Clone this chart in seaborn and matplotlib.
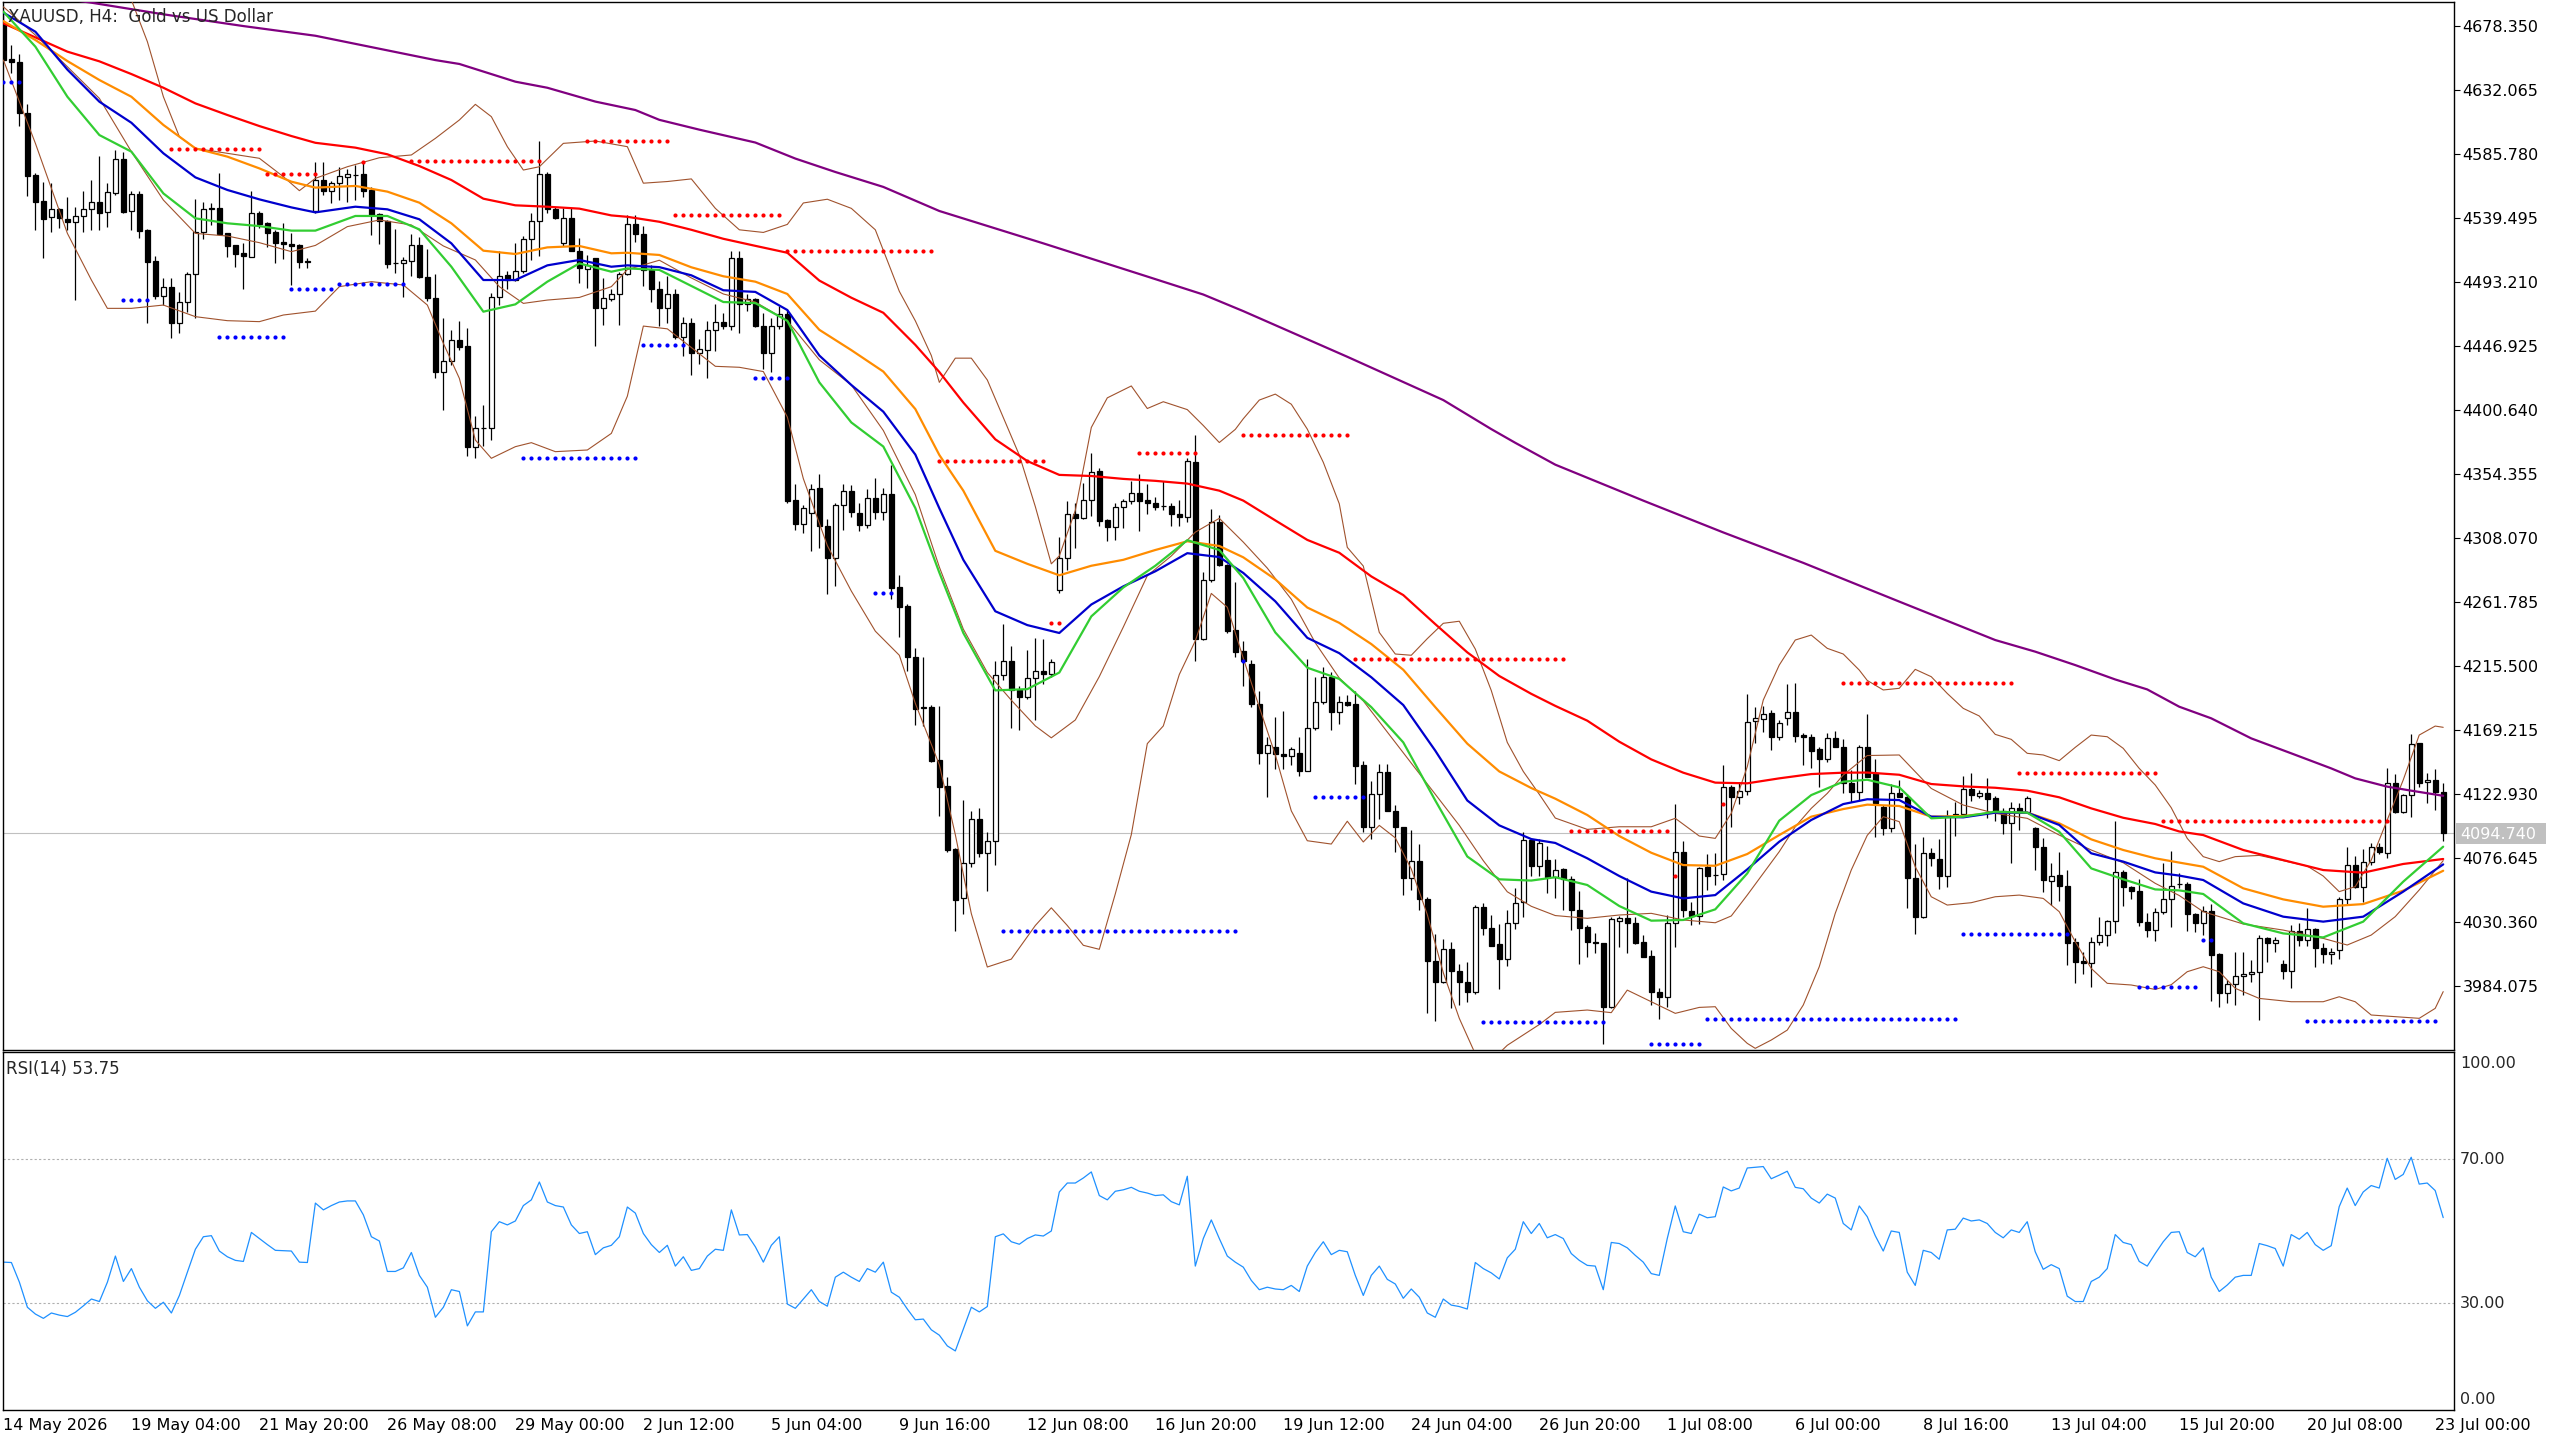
import numpy as np
import seaborn as sns
import matplotlib.pyplot as plt
from matplotlib.patches import Rectangle

sns.set_style("white")
plt.rcParams['font.family'] = ['DejaVu Sans']

# XAUUSD H4 candles, one value per bar (bar 0 = 14 May 2026)
opens = [
    4680.0, 4654.0, 4652.1, 4615.0, 4570.4, 4551.6, 4539.8, 4545.6, 4538.6, 4536.7,
    4541.0, 4545.6, 4550.9, 4543.4, 4557.6, 4581.7, 4544.6, 4556.7, 4530.6, 4508.2,
    4482.9, 4489.7, 4463.2, 4478.3, 4498.6, 4529.0, 4546.0, 4546.3, 4528.2, 4519.8,
    4513.8, 4511.4, 4542.7, 4535.5, 4529.0, 4521.7, 4520.3, 4519.8, 4507.7, 4544.6,
    4566.8, 4559.1, 4564.4, 4569.2, 4570.2, 4571.1, 4559.6, 4542.2, 4537.4, 4506.5,
    4506.5, 4508.5, 4519.8, 4496.9, 4481.7, 4427.7, 4435.9, 4451.1, 4447.0, 4374.0,
    4387.2, 4387.2, 4482.0, 4498.1, 4494.5, 4501.0, 4524.1, 4537.4, 4570.9, 4545.8,
    4521.0, 4539.0, 4515.7, 4502.2, 4510.2, 4474.0, 4480.8, 4484.4, 4498.8, 4534.7,
    4527.7, 4501.8, 4488.3, 4474.0, 4484.4, 4453.4, 4463.1, 4441.8, 4443.8, 4458.1,
    4463.9, 4461.2, 4510.7, 4477.4, 4480.5, 4461.2, 4441.8, 4461.2, 4470.1, 4335.4,
    4318.0, 4325.7, 4343.9, 4316.8, 4293.6, 4331.5, 4342.0, 4325.7, 4317.2, 4336.6,
    4326.5, 4340.1, 4272.3, 4258.8, 4222.0, 4185.2, 4185.6, 4147.7, 4128.6, 4082.9,
    4047.8, 4072.9, 4104.9, 4080.1, 4088.7, 4208.7, 4219.3, 4197.8, 4193.0, 4206.4,
    4211.6, 4209.8, 4270.1, 4293.6, 4325.0, 4322.7, 4335.6, 4356.5, 4320.7, 4315.6,
    4330.2, 4334.4, 4340.2, 4335.6, 4333.6, 4331.3, 4331.3, 4325.0, 4323.0, 4362.8,
    4235.0, 4277.3, 4319.3, 4288.4, 4241.6, 4226.4, 4216.6, 4188.1, 4152.7, 4157.2,
    4152.1, 4150.6, 4152.7, 4139.8, 4170.7, 4189.3, 4207.3, 4182.1, 4189.6, 4187.8,
    4143.7, 4098.7, 4122.7, 4138.6, 4110.7, 4098.7, 4062.1, 4074.7, 4046.8, 4002.1,
    3986.8, 4011.1, 3995.2, 3986.8, 3979.6, 4041.1, 4026.1, 4014.1, 4003.6, 4029.7,
    4044.7, 4089.7, 4071.1, 4075.3, 4062.7, 4068.4, 4061.2, 4039.0, 4026.9, 4015.6,
    4014.9, 3969.1, 4031.4, 4033.5, 4029.4, 4015.6, 4005.7, 3979.9, 3975.8, 4029.8,
    4080.7, 4038.3, 4034.7, 4070.3, 4064.3, 4065.0, 4128.1, 4120.9, 4125.3, 4175.9,
    4176.8, 4181.2, 4164.3, 4177.6, 4182.4, 4165.5, 4164.0, 4155.2, 4147.9, 4163.1,
    4157.1, 4131.0, 4124.6, 4156.6, 4138.3, 4113.7, 4098.1, 4123.8, 4120.9, 4061.9,
    4033.7, 4080.5, 4075.6, 4063.8, 4108.4, 4108.2, 4126.2, 4121.7, 4123.3, 4119.7,
    4110.6, 4102.1, 4112.5, 4110.1, 4098.0, 4084.3, 4060.2, 4064.3, 4056.4, 4016.1,
    4002.4, 4000.4, 4016.1, 4020.9, 4031.1, 4066.2, 4055.4, 4053.0, 4030.6, 4024.5,
    4037.8, 4046.9, 4057.5, 4057.6, 4035.9, 4029.8, 4038.3, 4007.2, 3979.2, 3985.3,
    3991.3, 3992.5, 3993.9, 4018.5, 4014.9, 3999.7, 3995.1, 4023.8, 4017.3, 4025.0,
    4011.3, 4006.9, 4010.1, 4046.7, 4071.5, 4055.9, 4074.0, 4084.8, 4080.0, 4130.6,
    4110.1, 4122.1, 4159.5, 4131.3, 4133.0, 4124.6]
highs = [
    4687.0, 4664.4, 4657.6, 4621.7, 4571.6, 4565.6, 4564.9, 4546.3, 4554.3, 4547.5,
    4559.1, 4566.8, 4584.4, 4564.9, 4588.5, 4587.3, 4558.8, 4559.1, 4531.1, 4512.1,
    4495.7, 4495.7, 4485.6, 4500.5, 4552.8, 4551.1, 4550.4, 4571.6, 4528.2, 4519.8,
    4521.0, 4559.1, 4544.6, 4536.7, 4530.6, 4535.9, 4528.2, 4520.3, 4510.1, 4579.6,
    4580.0, 4566.1, 4576.4, 4574.5, 4577.6, 4580.0, 4562.0, 4543.2, 4537.9, 4531.1,
    4510.9, 4527.7, 4525.8, 4516.7, 4498.8, 4466.8, 4458.3, 4465.1, 4459.6, 4396.2,
    4404.1, 4484.8, 4515.7, 4501.2, 4521.5, 4526.3, 4542.7, 4595.2, 4572.8, 4547.5,
    4546.3, 4546.3, 4524.6, 4512.6, 4510.2, 4495.7, 4487.7, 4500.5, 4541.5, 4541.3,
    4533.5, 4505.7, 4494.0, 4497.2, 4488.3, 4468.1, 4467.0, 4451.5, 4465.0, 4477.4,
    4470.8, 4515.4, 4515.4, 4484.4, 4481.3, 4470.8, 4467.0, 4475.5, 4472.8, 4347.0,
    4331.5, 4347.0, 4354.0, 4321.9, 4333.5, 4347.0, 4346.2, 4333.5, 4343.1, 4351.6,
    4343.9, 4360.5, 4281.2, 4259.9, 4228.2, 4222.0, 4187.2, 4186.4, 4134.9, 4083.5,
    4118.7, 4110.7, 4112.9, 4095.5, 4219.3, 4245.9, 4230.1, 4200.7, 4227.3, 4235.6,
    4235.0, 4220.7, 4308.4, 4335.0, 4333.0, 4347.9, 4369.3, 4358.7, 4321.6, 4333.6,
    4336.4, 4349.3, 4354.5, 4347.3, 4337.9, 4349.3, 4333.6, 4335.6, 4365.6, 4382.2,
    4283.6, 4329.3, 4324.4, 4289.3, 4276.4, 4233.6, 4219.6, 4197.7, 4164.1, 4178.2,
    4182.7, 4157.2, 4164.1, 4220.8, 4207.3, 4214.8, 4211.2, 4193.8, 4194.7, 4197.7,
    4146.7, 4132.3, 4144.3, 4144.3, 4115.2, 4098.7, 4097.2, 4086.7, 4048.3, 4021.6,
    4018.3, 4016.2, 3999.7, 4001.2, 4042.3, 4044.1, 4035.7, 4029.1, 4038.7, 4055.2,
    4095.7, 4091.2, 4090.3, 4085.2, 4076.2, 4069.1, 4063.6, 4052.7, 4028.1, 4022.1,
    4014.9, 4034.2, 4034.7, 4061.9, 4033.7, 4020.9, 4010.1, 3982.4, 4035.4, 4115.6,
    4089.1, 4045.0, 4070.3, 4079.5, 4079.9, 4143.8, 4129.4, 4131.8, 4195.2, 4186.0,
    4186.5, 4183.6, 4176.4, 4202.4, 4202.9, 4167.2, 4166.2, 4157.1, 4167.2, 4168.4,
    4162.4, 4140.2, 4158.3, 4180.7, 4147.9, 4114.9, 4130.1, 4133.0, 4122.9, 4086.7,
    4092.0, 4083.6, 4090.1, 4111.3, 4117.3, 4135.9, 4137.8, 4125.7, 4134.7, 4121.4,
    4112.5, 4117.3, 4116.1, 4121.4, 4098.8, 4090.8, 4072.7, 4080.7, 4067.9, 4018.5,
    4008.9, 4019.2, 4034.2, 4031.8, 4103.6, 4067.9, 4056.4, 4061.4, 4036.6, 4040.2,
    4072.7, 4081.9, 4065.5, 4059.5, 4036.6, 4041.9, 4043.1, 4008.1, 3988.4, 4008.4,
    4008.4, 4002.8, 4020.9, 4019.7, 4019.7, 4002.8, 4028.1, 4029.8, 4040.2, 4025.7,
    4015.4, 4011.3, 4048.6, 4084.8, 4078.0, 4083.1, 4087.7, 4087.7, 4141.4, 4137.3,
    4122.9, 4166.2, 4160.0, 4137.8, 4140.9, 4130.6]
lows = [
    4652.0, 4643.9, 4606.1, 4555.5, 4530.6, 4510.6, 4529.0, 4532.3, 4530.6, 4480.0,
    4529.0, 4530.6, 4530.6, 4533.0, 4556.0, 4542.7, 4530.6, 4525.1, 4463.6, 4480.5,
    4476.4, 4452.8, 4455.9, 4471.1, 4466.8, 4524.1, 4534.2, 4527.0, 4510.9, 4504.1,
    4487.7, 4511.4, 4532.3, 4518.1, 4506.5, 4509.4, 4490.9, 4503.4, 4502.9, 4542.7,
    4556.0, 4550.0, 4552.3, 4551.1, 4552.3, 4554.8, 4527.0, 4520.5, 4502.9, 4499.3,
    4481.9, 4497.4, 4495.7, 4479.5, 4423.9, 4400.5, 4433.0, 4443.9, 4367.2, 4365.6,
    4374.7, 4378.8, 4476.4, 4487.7, 4494.0, 4499.3, 4509.0, 4511.8, 4542.7, 4538.3,
    4519.1, 4515.7, 4492.1, 4488.5, 4447.0, 4462.0, 4479.5, 4462.0, 4498.1, 4521.9,
    4490.2, 4478.6, 4461.2, 4463.1, 4451.5, 4439.9, 4425.6, 4434.1, 4423.6, 4443.0,
    4459.2, 4458.5, 4456.5, 4472.0, 4460.4, 4430.2, 4428.3, 4459.2, 4333.5, 4314.1,
    4311.4, 4298.6, 4300.6, 4267.7, 4273.5, 4314.1, 4323.0, 4312.9, 4315.3, 4321.9,
    4320.7, 4263.8, 4236.7, 4211.6, 4172.9, 4172.1, 4145.8, 4107.1, 4080.7, 4023.5,
    4035.8, 4070.1, 4077.2, 4052.7, 4071.2, 4205.0, 4170.7, 4169.3, 4191.3, 4176.4,
    4202.1, 4207.8, 4268.4, 4285.0, 4300.7, 4321.6, 4323.6, 4316.4, 4305.6, 4306.4,
    4315.0, 4332.2, 4313.0, 4325.0, 4327.9, 4327.9, 4317.0, 4317.0, 4319.3, 4218.7,
    4234.4, 4275.9, 4287.9, 4239.3, 4222.1, 4200.7, 4185.7, 4144.6, 4120.6, 4141.3,
    4141.3, 4143.7, 4135.6, 4139.8, 4169.2, 4187.8, 4169.2, 4173.7, 4186.3, 4130.2,
    4095.7, 4090.3, 4104.7, 4110.7, 4080.7, 4050.1, 4053.7, 4038.7, 3964.3, 3958.6,
    3986.2, 3968.2, 3970.6, 3972.7, 3978.1, 4020.7, 4013.2, 3981.7, 3998.2, 4025.2,
    4034.2, 4063.3, 4063.3, 4051.3, 4047.7, 4039.0, 4024.5, 3999.7, 4004.8, 4008.1,
    3941.9, 3967.9, 4012.5, 4008.1, 4014.4, 4004.8, 3970.3, 3959.9, 3969.1, 4012.5,
    4034.2, 4028.1, 4028.9, 4053.4, 4057.0, 4060.7, 4099.2, 4115.6, 4122.1, 4159.5,
    4167.9, 4154.7, 4161.9, 4172.8, 4160.7, 4143.8, 4141.4, 4128.1, 4146.2, 4157.1,
    4123.8, 4117.3, 4118.5, 4135.0, 4091.5, 4093.2, 4095.7, 4120.9, 4040.2, 4021.4,
    4033.0, 4070.8, 4053.9, 4055.9, 4092.7, 4107.2, 4118.0, 4119.7, 4105.3, 4103.6,
    4093.7, 4072.7, 4096.8, 4108.9, 4067.9, 4052.2, 4042.6, 4045.5, 3999.2, 3986.0,
    3992.7, 3983.1, 4013.7, 4013.2, 4022.6, 4042.1, 4046.7, 4027.7, 4019.2, 4016.8,
    4035.9, 4026.5, 4054.7, 4023.8, 4022.9, 4020.9, 3973.2, 3969.1, 3971.5, 3970.3,
    3977.5, 3987.2, 3959.5, 4001.6, 4008.4, 3988.9, 3982.4, 4012.9, 4012.9, 3997.5,
    4000.4, 3999.9, 4003.3, 4043.3, 4054.7, 4044.5, 4071.5, 4079.2, 4076.4, 4108.9,
    4108.9, 4106.0, 4127.7, 4116.1, 4111.3, 4089.1]
closes = [
    4653.6, 4651.9, 4615.0, 4569.9, 4551.1, 4538.6, 4545.6, 4539.1, 4536.7, 4540.8,
    4545.6, 4550.9, 4543.2, 4557.9, 4581.7, 4543.9, 4556.7, 4530.2, 4507.7, 4483.2,
    4489.2, 4463.2, 4478.3, 4498.6, 4529.0, 4545.6, 4546.5, 4527.5, 4519.3, 4513.3,
    4511.8, 4542.7, 4534.7, 4528.7, 4521.5, 4520.3, 4519.3, 4507.7, 4507.9, 4566.8,
    4559.1, 4564.4, 4569.7, 4570.9, 4570.4, 4559.1, 4541.5, 4537.4, 4506.0, 4506.8,
    4508.9, 4519.8, 4496.9, 4481.7, 4428.2, 4435.9, 4451.1, 4446.3, 4374.0, 4387.2,
    4387.5, 4482.0, 4497.6, 4494.5, 4501.0, 4524.1, 4537.4, 4570.9, 4545.8, 4539.5,
    4539.0, 4515.7, 4502.9, 4505.3, 4474.0, 4481.2, 4484.4, 4498.8, 4535.0, 4527.7,
    4501.8, 4488.3, 4474.0, 4484.4, 4453.4, 4463.1, 4441.8, 4444.5, 4458.1, 4463.9,
    4461.2, 4510.7, 4477.4, 4480.5, 4461.2, 4441.8, 4461.2, 4470.1, 4334.6, 4318.0,
    4329.6, 4343.1, 4316.8, 4293.6, 4331.5, 4342.0, 4326.5, 4317.2, 4336.6, 4326.5,
    4340.1, 4271.6, 4258.0, 4222.0, 4184.5, 4185.6, 4146.9, 4128.3, 4082.1, 4046.4,
    4072.9, 4104.9, 4080.1, 4088.7, 4208.7, 4219.3, 4197.8, 4193.0, 4206.4, 4211.6,
    4209.8, 4218.1, 4293.6, 4325.0, 4322.7, 4335.6, 4355.9, 4320.2, 4315.6, 4330.2,
    4334.4, 4340.2, 4335.0, 4333.6, 4330.7, 4331.1, 4325.0, 4323.0, 4363.6, 4235.0,
    4277.3, 4319.3, 4288.4, 4240.7, 4225.6, 4218.7, 4188.1, 4152.7, 4158.1, 4152.1,
    4150.3, 4155.1, 4139.8, 4170.7, 4189.6, 4207.3, 4182.1, 4189.6, 4187.2, 4143.1,
    4098.7, 4122.7, 4138.6, 4110.7, 4098.7, 4062.1, 4074.7, 4046.8, 4002.1, 3986.8,
    4011.1, 3995.2, 3986.8, 3979.6, 4041.1, 4026.1, 4013.2, 4003.3, 4029.7, 4044.1,
    4089.7, 4071.1, 4087.3, 4062.7, 4068.1, 4061.2, 4039.0, 4026.2, 4015.6, 4015.4,
    3969.1, 4032.2, 4033.5, 4029.4, 4014.9, 4005.3, 3979.9, 3975.8, 4029.8, 4080.7,
    4039.0, 4034.7, 4069.6, 4063.6, 4064.0, 4127.7, 4120.9, 4125.3, 4175.2, 4177.6,
    4180.5, 4164.3, 4174.4, 4182.4, 4164.8, 4163.8, 4154.2, 4147.9, 4163.1, 4157.1,
    4130.6, 4124.6, 4157.1, 4135.4, 4116.1, 4098.1, 4123.3, 4120.9, 4061.9, 4033.7,
    4080.0, 4076.4, 4063.8, 4106.9, 4106.9, 4126.2, 4122.1, 4123.3, 4119.2, 4110.6,
    4102.1, 4112.5, 4110.1, 4119.7, 4084.3, 4060.7, 4063.8, 4056.4, 4015.4, 4001.6,
    4000.4, 4016.1, 4020.9, 4031.1, 4066.2, 4055.4, 4053.0, 4030.6, 4024.5, 4037.8,
    4046.9, 4056.6, 4057.6, 4035.9, 4029.8, 4038.3, 4006.5, 3979.2, 3985.3, 3991.3,
    3992.7, 3993.9, 4018.5, 4014.9, 4017.3, 3995.1, 4023.8, 4017.3, 4025.0, 4011.3,
    4006.9, 4008.9, 4046.7, 4071.5, 4055.9, 4074.0, 4084.8, 4080.7, 4130.6, 4110.1,
    4122.1, 4158.8, 4131.1, 4133.0, 4124.6, 4094.74]

# moving averages at these bars
ma_bars = [0, 4, 8, 12, 16, 20, 24, 28, 32, 36, 39, 44, 48, 52, 56, 60, 64, 68, 72, 76, 78,
           82, 86, 90, 94, 98, 102, 106, 110, 114, 117, 120, 124, 128, 132, 136, 140, 144, 148,
           152, 155, 159, 163, 167, 171, 175, 179, 183, 187, 191, 194, 198, 202, 206, 210, 214,
           218, 222, 226, 230, 233, 237, 241, 245, 249, 253, 257, 261, 265, 269, 272, 275, 280,
           285, 290, 295, 300, 305]
ma_green = [4688.5, 4663.2, 4627.0, 4599.3, 4587.3, 4557.1, 4539.1, 4535.5, 4533.5, 4530.2, 4530.2,
            4540.8, 4540.8, 4531.1, 4504.1, 4471.6, 4476.9, 4493.3, 4506.5, 4500.5, 4502.9,
            4501.8, 4490.2, 4478.6, 4477.8, 4465.0, 4420.5, 4391.5, 4374.1, 4329.6, 4283.0,
            4239.3, 4197.8, 4198.7, 4210.7, 4251.3, 4272.2, 4287.9, 4306.4, 4299.3, 4279.0,
            4239.7, 4214.2, 4206.1, 4185.7, 4160.2, 4118.2, 4077.7, 4061.2, 4060.3, 4062.7,
            4057.1, 4041.9, 4031.3, 4031.8, 4039.5, 4065.5, 4103.6, 4122.1, 4131.8, 4133.2,
            4127.7, 4105.3, 4106.5, 4110.1, 4109.4, 4095.6, 4069.1, 4061.2, 4053.9, 4053.2,
            4050.6, 4029.4, 4022.1, 4019.2, 4030.6, 4059.5, 4084.8]
ma_blue = [4687.8, 4674.0, 4646.6, 4623.4, 4608.2, 4586.1, 4568.7, 4559.6, 4552.8, 4547.0, 4543.4,
           4547.5, 4545.6, 4538.4, 4521.0, 4494.5, 4494.5, 4505.1, 4509.0, 4504.1, 4505.1,
           4503.8, 4497.9, 4487.1, 4485.9, 4472.8, 4439.9, 4418.6, 4399.3, 4368.3, 4329.5,
           4292.2, 4255.0, 4245.0, 4239.3, 4259.9, 4273.0, 4283.9, 4297.0, 4294.2, 4282.7,
           4262.2, 4235.8, 4224.7, 4207.3, 4187.2, 4154.2, 4118.2, 4100.2, 4090.3, 4087.5,
           4076.4, 4063.6, 4052.3, 4047.4, 4049.8, 4068.4, 4088.4, 4104.1, 4115.6, 4119.1,
           4118.5, 4106.5, 4106.0, 4109.4, 4109.4, 4100.5, 4080.0, 4074.0, 4066.2, 4063.9,
           4060.7, 4043.8, 4034.2, 4030.6, 4034.2, 4052.3, 4072.0]
ma_orange = [4681.7, 4668.0, 4652.8, 4639.1, 4627.0, 4606.6, 4589.7, 4583.7, 4575.2, 4565.6, 4561.3,
             4562.5, 4558.4, 4550.4, 4535.5, 4515.7, 4513.3, 4518.1, 4519.1, 4513.8, 4514.2,
             4512.6, 4503.7, 4497.2, 4493.3, 4484.4, 4458.5, 4443.8, 4428.3, 4401.2, 4368.0,
             4342.2, 4298.7, 4289.3, 4281.0, 4287.9, 4292.2, 4299.3, 4305.6, 4302.2, 4294.0,
             4278.1, 4257.7, 4246.6, 4231.3, 4212.7, 4185.7, 4159.3, 4139.2, 4127.2, 4119.5,
             4107.7, 4092.5, 4080.4, 4071.5, 4071.0, 4079.5, 4093.2, 4106.5, 4112.0, 4115.2,
             4114.2, 4106.5, 4107.0, 4109.4, 4109.4, 4101.7, 4090.1, 4082.4, 4076.4, 4073.3,
             4070.3, 4054.7, 4046.7, 4041.4, 4043.3, 4053.0, 4067.4]
ma_red = [4680.1, 4669.9, 4659.6, 4652.6, 4643.4, 4633.5, 4622.2, 4613.8, 4605.8, 4598.6, 4593.7,
          4590.2, 4585.4, 4576.9, 4566.8, 4553.3, 4548.5, 4547.5, 4546.1, 4541.2, 4540.2,
          4536.6, 4530.8, 4524.3, 4519.2, 4514.2, 4494.1, 4481.7, 4470.8, 4447.6, 4428.0,
          4405.9, 4379.3, 4363.6, 4353.6, 4352.8, 4350.7, 4349.3, 4347.3, 4342.2, 4335.0,
          4320.7, 4306.6, 4297.3, 4280.2, 4266.7, 4245.7, 4225.3, 4208.2, 4195.3, 4186.6,
          4175.9, 4160.7, 4147.9, 4138.3, 4131.1, 4130.6, 4134.2, 4137.3, 4138.3, 4138.4,
          4136.8, 4130.1, 4128.4, 4127.4, 4125.3, 4120.5, 4112.5, 4105.7, 4101.2, 4095.8,
          4093.2, 4082.4, 4075.1, 4067.9, 4066.0, 4072.3, 4075.9]

purple_bars = [0, 11, 20, 30, 39, 54, 57, 64, 68, 74, 79, 82, 87, 94, 99, 104, 110, 117, 130, 143,
               150, 155, 168, 180, 186, 189, 194, 205, 215, 225, 237, 249, 254, 259, 264, 268, 272,
               276, 281, 286, 291, 294, 298, 301, 305]
ma_purple = [4704.0, 4695.0, 4686.6, 4678.1, 4671.1, 4653.5, 4650.7, 4637.9, 4633.5, 4623.5, 4617.4,
             4610.3, 4603.2, 4593.9, 4582.3, 4572.6, 4561.8, 4544.4, 4521.0, 4497.0, 4484.0,
             4472.0, 4439.0, 4407.7, 4386.7, 4376.8, 4361.0, 4335.0, 4312.0, 4290.0, 4262.0,
             4234.2, 4225.8, 4216.1, 4205.7, 4198.5, 4186.0, 4177.6, 4163.1, 4152.3, 4141.4,
             4134.2, 4128.2, 4125.3, 4121.6]

# Bollinger bands (20)
bb_up_bars = [0, 4, 8, 12, 16, 18, 20, 22, 24, 28, 32, 35, 37, 39, 43, 47, 51, 54, 57, 59, 61, 63,
              65, 67, 70, 74, 78, 80, 83, 86, 89, 92, 95, 98, 100, 103, 106, 109, 112, 114, 116,
              117, 119, 121, 123, 125, 127, 129, 131, 132, 134, 136, 138, 141, 143, 145, 148, 150,
              152, 154, 155, 157, 159, 161, 163, 165, 167, 168, 170, 172, 174, 176, 178, 180, 182,
              184, 186, 188, 190, 192, 194, 198, 202, 206, 209, 212, 214, 216, 218, 220, 222, 224,
              226, 228, 230, 232, 233, 235, 237, 239, 241, 243, 245, 247, 249, 251, 253, 255, 257,
              259, 261, 263, 265, 267, 269, 271, 273, 275, 277, 279, 282, 285, 288, 290, 292, 294,
              296, 298, 300, 302, 304, 305]
bb_upper = [4880.0, 4835.0, 4790.0, 4745.0, 4697.0, 4666.8, 4627.0, 4598.1, 4589.7, 4586.1, 4582.5,
            4569.2, 4559.1, 4568.0, 4576.4, 4582.9, 4584.9, 4596.9, 4610.2, 4621.5, 4612.6, 4590.9,
            4574.0, 4576.4, 4593.3, 4595.0, 4590.9, 4564.5, 4565.7, 4567.6, 4546.3, 4530.8, 4528.9,
            4534.7, 4550.2, 4552.9, 4546.3, 4530.8, 4486.3, 4465.0, 4439.9, 4420.5, 4438.0, 4438.0,
            4422.2, 4395.0, 4367.9, 4330.7, 4289.3, 4295.0, 4327.9, 4387.9, 4409.3, 4417.9, 4401.6,
            4406.5, 4400.8, 4389.3, 4377.0, 4386.5, 4394.2, 4407.7, 4412.0, 4404.7, 4386.7, 4362.7,
            4332.7, 4301.2, 4287.7, 4239.7, 4224.1, 4223.2, 4235.2, 4246.3, 4247.8, 4227.7, 4197.7,
            4160.2, 4139.2, 4122.7, 4105.5, 4097.3, 4099.2, 4099.2, 4105.3, 4092.5, 4090.8, 4108.9,
            4142.6, 4190.8, 4216.1, 4234.2, 4237.8, 4228.2, 4224.1, 4212.5, 4205.0, 4198.1, 4199.3,
            4213.0, 4207.7, 4195.6, 4184.8, 4179.3, 4166.0, 4162.4, 4152.3, 4151.1, 4147.0, 4156.6,
            4165.5, 4164.3, 4155.9, 4141.4, 4129.4, 4113.0, 4090.8, 4077.6, 4074.0, 4077.6, 4078.5,
            4074.7, 4070.8, 4063.6, 4052.3, 4055.9, 4075.1, 4104.1, 4133.0, 4165.5, 4172.0, 4171.1]
bb_mid_bars = [0, 4, 8, 12, 16, 20, 24, 28, 32, 36, 39, 43, 47, 51, 55, 59, 62, 65, 68, 72, 76, 78,
               82, 86, 90, 94, 98, 102, 106, 110, 114, 117, 120, 123, 126, 129, 131, 134, 137, 140,
               143, 146, 149, 152, 155, 158, 161, 164, 167, 170, 173, 176, 179, 182, 185, 188, 191,
               194, 198, 202, 206, 210, 214, 216, 218, 220, 222, 224, 226, 228, 230, 233, 237, 241,
               245, 249, 253, 257, 261, 265, 269, 272, 275, 280, 285, 290, 293, 296, 299, 302, 305]
bb_mid = [4692.0, 4671.6, 4648.7, 4625.8, 4587.3, 4552.3, 4528.2, 4526.3, 4521.5, 4515.0, 4519.5,
          4533.1, 4537.9, 4534.3, 4519.1, 4509.0, 4489.7, 4477.6, 4480.0, 4481.9, 4489.7, 4502.0,
          4508.8, 4496.0, 4484.4, 4478.6, 4465.0, 4436.8, 4418.6, 4385.7, 4339.3, 4287.0, 4242.1,
          4210.7, 4190.7, 4172.1, 4163.5, 4176.4, 4207.8, 4243.6, 4280.7, 4295.0, 4312.2, 4322.2,
          4305.0, 4286.2, 4263.7, 4232.2, 4206.7, 4190.2, 4167.7, 4145.2, 4122.7, 4100.2, 4074.7,
          4052.2, 4041.7, 4035.0, 4033.0, 4035.4, 4036.6, 4031.8, 4029.8, 4034.7, 4049.8, 4065.5,
          4081.2, 4099.2, 4112.5, 4123.3, 4136.6, 4150.7, 4151.1, 4126.9, 4114.9, 4108.9, 4105.3,
          4093.2, 4082.4, 4073.2, 4058.3, 4049.5, 4037.8, 4028.9, 4024.5, 4018.5, 4013.7, 4020.9,
          4034.2, 4053.5, 4074.7]
bb_low_bars = [0, 4, 8, 11, 13, 16, 20, 24, 28, 32, 35, 39, 42, 46, 50, 53, 55, 57, 59, 61, 64, 66,
               69, 73, 76, 78, 80, 83, 86, 89, 92, 95, 98, 100, 103, 106, 109, 112, 114, 117, 119,
               121, 123, 126, 129, 131, 133, 135, 137, 139, 141, 143, 145, 147, 149, 151, 153, 155,
               157, 159, 161, 163, 166, 168, 170, 172, 174, 176, 178, 180, 182, 184, 186, 188, 190,
               192, 194, 198, 201, 203, 206, 209, 212, 214, 216, 218, 219, 221, 223, 225, 227, 229,
               231, 233, 235, 237, 239, 241, 243, 246, 249, 252, 255, 257, 259, 261, 263, 266, 269,
               271, 273, 275, 277, 279, 282, 286, 290, 292, 294, 296, 299, 302, 304, 305]
bb_lower = [4653.5, 4593.3, 4528.2, 4494.5, 4474.0, 4474.0, 4476.4, 4468.0, 4465.1, 4464.4, 4469.2,
            4472.0, 4489.7, 4493.3, 4490.9, 4476.4, 4448.7, 4423.4, 4378.8, 4365.6, 4374.0, 4376.9,
            4370.4, 4371.6, 4383.6, 4410.5, 4461.2, 4459.2, 4445.7, 4432.1, 4431.4, 4428.3, 4395.4,
            4350.9, 4302.5, 4269.6, 4240.6, 4223.2, 4188.4, 4144.0, 4093.5, 4036.4, 3997.8, 4003.5,
            4027.8, 4040.6, 4027.8, 4013.5, 4010.6, 4050.7, 4093.5, 4159.3, 4172.1, 4209.3, 4233.6,
            4267.9, 4257.9, 4221.0, 4185.7, 4151.2, 4110.7, 4089.1, 4086.7, 4103.2, 4088.2, 4100.2,
            4091.2, 4068.7, 4035.7, 3993.7, 3960.7, 3935.0, 3930.0, 3941.2, 3948.7, 3956.2, 3965.0,
            3966.7, 3964.8, 3981.1, 3972.7, 3964.3, 3968.6, 3969.1, 3953.4, 3942.6, 3939.0, 3945.0,
            3952.2, 3970.3, 3998.0, 4036.6, 4067.9, 4093.0, 4106.5, 4102.9, 4070.3, 4048.6, 4042.6,
            4044.3, 4048.6, 4049.8, 4047.4, 4037.8, 4016.1, 3996.8, 3986.0, 3984.8, 3981.6, 3985.0,
            3994.4, 3998.0, 3994.4, 3982.4, 3975.1, 3972.7, 3972.7, 3976.3, 3972.7, 3963.1, 3961.9,
            3960.7, 3967.9, 3980.0]

# dotted support / resistance levels: first bar, last bar, price
res_start = [21, 33, 45, 51, 73, 84, 98, 117, 131, 142, 155, 169, 196, 209, 215, 230, 252, 270]
res_end = [32, 39, 45, 67, 83, 97, 116, 130, 132, 149, 168, 195, 208, 209, 215, 251, 269, 298]
res_level = [4589.0, 4570.9, 4579.6, 4580.3, 4594.8, 4541.3, 4515.3, 4363.6, 4246.4, 4369.3,
             4382.2, 4220.8, 4096.1, 4063.6, 4115.6, 4202.9, 4137.8, 4103.2]
sup_start = [0, 15, 27, 36, 42, 65, 80, 94, 109, 125, 155, 164, 185, 206, 213, 245, 267, 275, 288]
sup_end = [2, 18, 35, 41, 50, 79, 85, 98, 111, 154, 155, 170, 200, 212, 244, 258, 274, 276, 304]
sup_level = [4637.4, 4479.8, 4453.0, 4487.7, 4491.4, 4365.6, 4447.6, 4423.6, 4268.1, 4024.1,
             4218.7, 4120.6, 3958.3, 3941.9, 3960.3, 4021.4, 3983.3, 4017.3, 3959.0]

rsi_vals = [
    41.3, 41.2, 35.7, 28.7, 26.8, 25.6, 27.1, 26.5, 26.1, 27.3,
    29.1, 31.0, 30.3, 35.7, 43.0, 35.9, 39.5, 34.3, 30.5, 28.4,
    30.1, 27.1, 32.0, 38.5, 44.9, 48.4, 48.7, 44.4, 42.8, 41.8,
    41.5, 49.6, 47.9, 46.2, 44.6, 44.5, 44.4, 41.3, 41.2, 57.8,
    55.9, 57.1, 58.1, 58.4, 58.4, 54.5, 48.4, 47.2, 38.7, 38.7,
    39.7, 44.0, 37.6, 34.3, 25.9, 28.7, 33.6, 33.1, 23.5, 27.4,
    27.4, 49.8, 52.6, 51.7, 52.8, 57.1, 58.7, 63.7, 58.1, 57.1,
    56.7, 51.7, 49.3, 49.8, 43.4, 45.3, 46.0, 48.4, 56.7, 55.0,
    49.3, 46.2, 44.0, 46.0, 40.2, 42.8, 39.0, 39.5, 43.0, 44.9,
    44.6, 55.9, 48.9, 49.0, 45.6, 41.3, 46.0, 48.4, 29.6, 28.4,
    31.0, 33.6, 30.3, 29.0, 37.1, 38.5, 37.1, 35.9, 39.5, 38.5,
    41.3, 32.9, 31.5, 28.2, 25.2, 25.4, 22.4, 20.9, 17.9, 16.5,
    22.6, 28.7, 27.4, 28.9, 48.4, 49.2, 47.0, 46.3, 47.9, 48.9,
    48.6, 50.0, 60.9, 63.4, 63.4, 64.8, 66.5, 59.9, 58.7, 61.1,
    61.5, 62.2, 61.1, 60.6, 59.9, 60.1, 58.2, 57.3, 65.3, 40.2,
    47.9, 53.1, 47.9, 43.0, 41.3, 39.9, 36.2, 33.6, 34.3, 33.8,
    33.6, 34.8, 33.1, 40.2, 44.0, 47.0, 43.4, 44.6, 44.2, 37.6,
    32.0, 37.6, 40.2, 36.5, 35.2, 31.2, 33.8, 31.5, 27.1, 25.9,
    31.0, 29.3, 28.9, 28.2, 41.2, 39.5, 38.3, 36.6, 42.5, 44.9,
    52.6, 49.3, 52.1, 48.1, 49.0, 47.9, 43.7, 41.8, 40.4, 40.2,
    33.6, 46.8, 46.5, 45.3, 43.2, 41.3, 38.1, 37.6, 47.9, 57.0,
    49.8, 49.3, 54.7, 53.7, 54.0, 62.3, 61.2, 62.0, 67.6, 67.8,
    68.0, 64.6, 65.6, 66.7, 62.2, 61.8, 59.2, 57.8, 60.3, 59.2,
    52.1, 50.3, 57.0, 54.0, 48.7, 44.4, 50.0, 49.6, 38.5, 34.8,
    44.6, 44.0, 42.1, 50.3, 50.5, 53.6, 52.8, 53.1, 52.1, 49.6,
    48.1, 50.3, 49.6, 52.6, 44.2, 39.3, 40.6, 39.5, 31.8, 30.3,
    30.3, 35.9, 37.1, 39.5, 49.0, 46.8, 46.2, 41.5, 40.2, 43.7,
    47.0, 49.6, 49.8, 44.0, 42.8, 45.3, 37.1, 33.1, 34.9, 37.1,
    37.6, 37.6, 46.5, 45.9, 45.1, 40.2, 49.0, 47.7, 49.6, 46.2,
    44.6, 45.9, 56.8, 62.0, 57.1, 60.9, 62.7, 62.0, 70.3, 64.4,
    65.8, 70.6, 63.1, 63.4, 61.3, 53.75]

price_ticks = [4678.350, 4632.065, 4585.780, 4539.495, 4493.210, 4446.925, 4400.640, 4354.355,
               4308.070, 4261.785, 4215.500, 4169.215, 4122.930, 4076.645, 4030.360, 3984.075]
time_labels = ["14 May 2026", "19 May 04:00", "21 May 20:00", "26 May 08:00", "29 May 00:00",
               "2 Jun 12:00", "5 Jun 04:00", "9 Jun 16:00", "12 Jun 08:00", "16 Jun 20:00",
               "19 Jun 12:00", "24 Jun 04:00", "26 Jun 20:00", "1 Jul 08:00", "6 Jul 00:00",
               "8 Jul 16:00", "13 Jul 04:00", "15 Jul 20:00", "20 Jul 08:00", "23 Jul 00:00"]
last_price = 4094.74
rsi_last = 53.75

# ---- figure layout (pixel based, 2560x1440) ----
W, H = 2560, 1440
fig = plt.figure(figsize=(25.6, 14.4), dpi=100)


def px_box(x0, y0, x1, y1):
    return [x0 / W, 1 - y1 / H, (x1 - x0) / W, (y1 - y0) / H]


ax = fig.add_axes(px_box(3, 2, 2454, 1050))
ax_rsi = fig.add_axes(px_box(3, 1052, 2454, 1410))
for a in (ax, ax_rsi):
    a.set_xlim(-0.05, 306.35)
    a.set_facecolor("white")
    for s in a.spines.values():
        s.set_color("black")
        s.set_linewidth(1.0)
ax.set_ylim(3937.8, 4695.5)
ax_rsi.set_ylim(0, 100)

# current price line
ax.axhline(last_price, color="#C0C0C0", lw=0.8, zorder=1)

# candles
x = np.arange(len(opens))
o, h, l, c = map(np.array, (opens, highs, lows, closes))
up = c >= o
ax.vlines(x, l, h, color="black", lw=0.9, zorder=2)
body = np.maximum(np.abs(c - o), 0.25)
ax.bar(x[up], body[up], bottom=o[up], width=0.6, color="white", edgecolor="black", lw=0.9, zorder=3)
ax.bar(x[~up], body[~up], bottom=c[~up], width=0.6, color="black", edgecolor="black", lw=0.9, zorder=3)

# bands and moving averages
bb_col = "#A0522D"
sns.lineplot(x=bb_up_bars, y=bb_upper, ax=ax, color=bb_col, lw=0.8, zorder=4)
sns.lineplot(x=bb_mid_bars, y=bb_mid, ax=ax, color=bb_col, lw=0.8, zorder=4)
sns.lineplot(x=bb_low_bars, y=bb_lower, ax=ax, color=bb_col, lw=0.8, zorder=4)
sns.lineplot(x=purple_bars, y=ma_purple, ax=ax, color="#800080", lw=1.6, zorder=5)
sns.lineplot(x=ma_bars, y=ma_red, ax=ax, color="#FF0000", lw=1.6, zorder=5)
sns.lineplot(x=ma_bars, y=ma_orange, ax=ax, color="#FF8C00", lw=1.6, zorder=5)
sns.lineplot(x=ma_bars, y=ma_blue, ax=ax, color="#0000CD", lw=1.6, zorder=5)
sns.lineplot(x=ma_bars, y=ma_green, ax=ax, color="#32CD32", lw=1.6, zorder=5)

# dotted levels
for starts, ends, levels, col in ((res_start, res_end, res_level, "#FF0000"),
                                  (sup_start, sup_end, sup_level, "#0000FF")):
    for s0, e0, lv in zip(starts, ends, levels):
        bars = np.arange(s0, e0 + 1)
        ax.scatter(bars, np.full(len(bars), lv), s=9, color=col, linewidths=0, zorder=6)

ax.set_xlabel("")
ax.set_ylabel("")
ax.set_xticks([])
ax.yaxis.tick_right()
ax.set_yticks(price_ticks)
ax.set_yticklabels([f"{p:.3f}" for p in price_ticks])
ax.tick_params(axis="y", direction="out", length=4, width=0.8, pad=2, labelsize=11.5, colors="black")

# current price tag
fig.add_artist(Rectangle((2456 / W, 1 - 844 / H), 90 / W, 21 / H, transform=fig.transFigure,
                         facecolor="#C0C0C0", edgecolor="none"))
fig.text(2460 / W, 1 - 834 / H, f"{last_price:.3f}", color="white", fontsize=11.5, va="center", ha="left")

fig.text(8 / W, 1 - 17 / H, "XAUUSD, H4:  Gold vs US Dollar", fontsize=12, va="center", ha="left")

# RSI panel
sns.lineplot(x=x, y=rsi_vals, ax=ax_rsi, color="#1E90FF", lw=0.9)
for lv in (70, 30):
    ax_rsi.axhline(lv, color="#B0B0B0", lw=0.8, ls=(0, (2, 2)), zorder=0)
ax_rsi.set_ylabel("")
ax_rsi.set_yticks([])
ax_rsi.set_xticks(np.arange(0, 305, 16))
ax_rsi.set_xticklabels(time_labels, ha="left")
ax_rsi.tick_params(axis="x", direction="out", length=3, width=0.8, pad=3, labelsize=11.5, colors="black")
fig.text(6 / W, 1 - 1069 / H, f"RSI(14) {rsi_last:.2f}", fontsize=12, va="center", ha="left")
for lv, ypx in ((100, 1064), (70, 1160), (30, 1304), (0, 1399)):
    fig.text(2460 / W, 1 - ypx / H, f"{lv:.2f}", fontsize=11.5, va="center", ha="left")

fig.savefig("out.png", dpi=100)
